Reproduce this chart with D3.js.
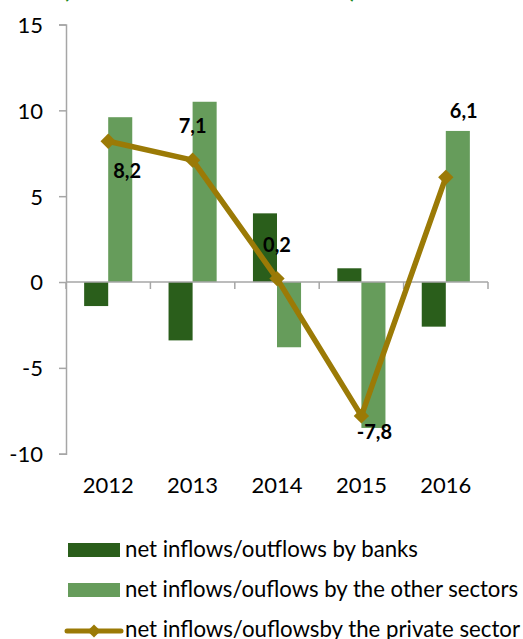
<!DOCTYPE html>
<html>
<head>
<meta charset="utf-8">
<script src="https://cdn.jsdelivr.net/npm/d3@7"></script>
<style>
  html, body { margin: 0; padding: 0; background: #fff; }
  svg { display: block; }
  text { font-family: Lato, "Open Sans", sans-serif; }
</style>
</head>
<body>
<svg id="chart" width="523" height="639"></svg>
<script>
// Net capital flows by sector, 2012-2016
const years = ["2012", "2013", "2014", "2015", "2016"];
const banks = [-1.4, -3.4, 4.0, 0.8, -2.6];
const otherSectors = [9.6, 10.5, -3.8, -8.5, 8.8];
const privateSector = [8.2, 7.1, 0.2, -7.8, 6.1];
const yTicks = [-10, -5, 0, 5, 10, 15];
const seriesNames = [
  "net inflows/outflows by banks",
  "net inflows/ouflows by the other sectors",
  "net inflows/ouflowsby the private sector"
];
const titleText = "(in million euro)";

const colors = { banks: "#2a5e1b", other: "#669c5b", line: "#9b7a06", axis: "#a6a6a6" };

const svg = d3.select("#chart");

const x = d3.scaleBand().domain(years).range([66, 488]);
const y = d3.scaleLinear().domain([-10, 15]).range([453.7, 24.5]);
const barW = x.bandwidth() * 0.285;
const num = v => String(v).replace(".", ",");

// Title above the plot (mostly outside the visible area)
svg.append("text")
  .attr("x", 63).attr("y", -2)
  .attr("textLength", 293).attr("lengthAdjust", "spacing")
  .attr("fill", "#1a8a1a").attr("font-weight", "bold").attr("font-size", 22)
  .text(titleText);

// Bars
const g = svg.append("g");
function barRect(val) {
  return { y: Math.min(y(val), y(0)), h: Math.abs(y(val) - y(0)) };
}
g.selectAll("rect.banks").data(years).join("rect")
  .attr("class", "banks")
  .attr("x", d => x(d) + x.bandwidth() / 2 - barW)
  .attr("width", barW)
  .attr("y", (d, i) => barRect(banks[i]).y)
  .attr("height", (d, i) => barRect(banks[i]).h)
  .attr("fill", colors.banks);

g.selectAll("rect.other").data(years).join("rect")
  .attr("class", "other")
  .attr("x", d => x(d) + x.bandwidth() / 2)
  .attr("width", barW)
  .attr("y", (d, i) => barRect(otherSectors[i]).y)
  .attr("height", (d, i) => barRect(otherSectors[i]).h)
  .attr("fill", colors.other);

// Y axis
const yAxis = svg.append("g")
  .attr("transform", "translate(66,0)")
  .call(d3.axisLeft(y).tickValues(yTicks).tickSize(7).tickPadding(16).tickFormat(d => String(d)));
yAxis.select(".domain").attr("stroke", colors.axis).attr("stroke-width", 1.5);
yAxis.selectAll(".tick line").attr("stroke", colors.axis).attr("stroke-width", 1.5);
yAxis.selectAll(".tick text").attr("font-size", 22).attr("fill", "#000").attr("dy", "0.36em");

// X axis along zero with ticks at category boundaries
const xAxisG = svg.append("g").attr("transform", `translate(0,${y(0)})`);
xAxisG.append("line")
  .attr("x1", x.range()[0]).attr("x2", x.range()[1])
  .attr("stroke", colors.axis).attr("stroke-width", 1.5);
const bounds = years.map(d => x(d)).concat([x.range()[1]]);
xAxisG.selectAll("line.tk").data(bounds).join("line")
  .attr("class", "tk")
  .attr("x1", d => d).attr("x2", d => d)
  .attr("y1", 0).attr("y2", 7)
  .attr("stroke", colors.axis).attr("stroke-width", 1.5);

// Category labels below the plot
svg.append("g").selectAll("text").data(years).join("text")
  .attr("x", d => x(d) + x.bandwidth() / 2)
  .attr("y", 493)
  .attr("text-anchor", "middle")
  .attr("font-size", 22)
  .text(d => d);

// Private sector line
const pts = years.map((d, i) => [x(d) + x.bandwidth() / 2, y(privateSector[i])]);
svg.append("path")
  .attr("d", d3.line()(pts))
  .attr("fill", "none")
  .attr("stroke", colors.line)
  .attr("stroke-width", 5.5)
  .attr("stroke-linejoin", "round");

const diamond = d3.symbol().type(d3.symbolDiamond2).size(150);
svg.append("g").selectAll("path").data(pts).join("path")
  .attr("transform", d => `translate(${d[0]},${d[1]})`)
  .attr("d", diamond)
  .attr("fill", colors.line);

// Value labels (offsets relative to each point)
const labelOffsets = [[19, 37], [0, -27], [0, -27], [13, 23], [18, -59]];
svg.append("g").selectAll("text").data(pts).join("text")
  .attr("x", (d, i) => d[0] + labelOffsets[i][0])
  .attr("y", (d, i) => d[1] + labelOffsets[i][1])
  .attr("text-anchor", "middle")
  .attr("font-size", 20)
  .attr("font-weight", "bold")
  .attr("fill", "#000")
  .text((d, i) => num(privateSector[i]));

// Legend
const legend = svg.append("g");
legend.append("rect").attr("x", 68).attr("y", 543).attr("width", 52).attr("height", 14).attr("fill", colors.banks);
legend.append("rect").attr("x", 68).attr("y", 583).attr("width", 52).attr("height", 14).attr("fill", colors.other);
legend.append("line").attr("x1", 67).attr("x2", 121).attr("y1", 631).attr("y2", 631)
  .attr("stroke", colors.line).attr("stroke-width", 5).attr("stroke-linecap", "round");
legend.append("path").attr("transform", "translate(94,631)")
  .attr("d", d3.symbol().type(d3.symbolDiamond2).size(110)).attr("fill", colors.line);
const legendWidths = [293, 393, 395];
legend.selectAll("text").data(seriesNames).join("text")
  .attr("x", 125)
  .attr("y", (d, i) => 557 + i * 40)
  .attr("font-size", 23.5)
  .attr("textLength", (d, i) => legendWidths[i])
  .attr("lengthAdjust", "spacingAndGlyphs")
  .attr("fill", "#000")
  .text(d => d);
</script>
</body>
</html>
